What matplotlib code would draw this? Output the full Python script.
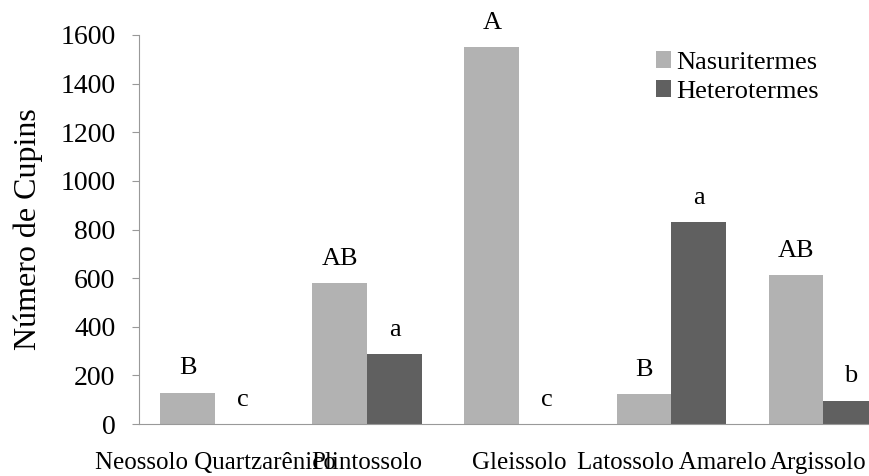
import numpy as np
import matplotlib
matplotlib.use("Agg")
from matplotlib import pyplot as plt
from matplotlib.transforms import ScaledTranslation

plt.rcParams['font.family'] = ['Liberation Serif', 'DejaVu Serif']

solos = ['Neossolo Quartzarênico', 'Plintossolo', 'Gleissolo', 'Latossolo Amarelo', 'Argissolo']
nasutitermes = [129, 579, 1550, 123, 612]
heterotermes = [0, 287, 0, 830, 96]
letras_nasu = ['B', 'AB', 'A', 'B', 'AB']
letras_hetero = ['c', 'a', 'c', 'a', 'b']

W, H = 869, 476
fig = plt.figure(figsize=(W / 100, H / 100), dpi=100)
ax = fig.add_axes([139 / W, 1 - 424 / H, 1 - 139 / W, (424 - 35) / H])

x = np.arange(len(solos))
w = 0.36
ax.bar(x - w / 2, nasutitermes, w, color='#b2b2b2', label='Nasuritermes')
ax.bar(x + w / 2, heterotermes, w, color='#606060', label='Heterotermes')

for i in range(len(solos)):
    ax.text(x[i] - w / 2, nasutitermes[i] + 100, letras_nasu[i], ha='center', va='center', fontsize=19)
    ax.text(x[i] + w / 2, heterotermes[i] + 100, letras_hetero[i], ha='center', va='center', fontsize=19)

ax.set_xlim(-0.5, 4.30)
ax.set_ylim(0, 1600)
ax.set_yticks(range(0, 1601, 200))
ax.set_xticks(x)
ax.set_xticklabels(solos, fontsize=18)
ax.tick_params(axis='x', length=0, pad=20)
ax.tick_params(axis='y', labelsize=20, length=5, color='#999999', pad=12)
ax.set_ylabel('Número de Cupins', fontsize=23, labelpad=12)

# ultimo rotulo encostado na borda: puxa um pouco para a esquerda
lab = ax.get_xticklabels()[-1]
lab.set_transform(lab.get_transform() + ScaledTranslation(-5 / 100, 0, fig.dpi_scale_trans))

for s in ['top', 'right']:
    ax.spines[s].set_visible(False)
ax.spines['left'].set_color('#999999')
ax.spines['bottom'].set_color('#999999')

ax.legend(loc='upper left', bbox_to_anchor=(0.675, 1.02), frameon=False, fontsize=19,
          handlelength=0.6, handleheight=0.6, handletextpad=0.2, labelspacing=0.25)

fig.savefig('out.png', dpi=100)
